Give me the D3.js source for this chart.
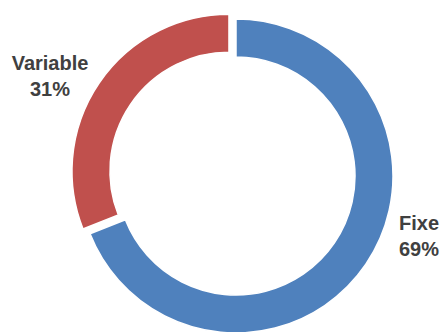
<!DOCTYPE html>
<html>
<head>
<meta charset="utf-8">
<script src="https://cdn.jsdelivr.net/npm/d3@7"></script>
<style>
  html, body { margin: 0; padding: 0; background: #fff; }
  svg { display: block; }
  text { font-family: "Liberation Sans", Arial, sans-serif; font-weight: bold; fill: #404040; }
</style>
</head>
<body>
<svg id="chart" width="443" height="332"></svg>
<script>
// Cost split
const categories = ["Fixe", "Variable"];
const values = [69, 31];
const colors = ["#4F81BD", "#C0504D"];
const labels = ["Fixe\n69%", "Variable\n31%"];

const W = 443, H = 332;
const cx = 236, cy = 176;
const outerR = 157, innerR = 119;
const explode = [0, 8.5];          // pull-out distance per slice
// label anchor (centre of text block) relative to the ring centre
const labelPos = [[183, 58], [-186, -102]];

const svg = d3.select("#chart");
const g = svg.append("g").attr("transform", `translate(${cx},${cy})`);

const pie = d3.pie().sort(null).value(d => d.value);
const arc = d3.arc().innerRadius(innerR).outerRadius(outerR);
const data = pie(categories.map((c, i) => ({ cat: c, value: values[i], i })));

g.selectAll("path.slice")
  .data(data)
  .join("path")
  .attr("class", "slice")
  .attr("fill", d => colors[d.data.i])
  .attr("stroke", "#fff")
  .attr("stroke-width", 1.5)
  .attr("transform", d => {
    const a = (d.startAngle + d.endAngle) / 2;
    const e = explode[d.data.i];
    return `translate(${e * Math.sin(a)},${-e * Math.cos(a)})`;
  })
  .attr("d", arc);

const lbl = g.selectAll("text.lbl")
  .data(data)
  .join("text")
  .attr("class", "lbl")
  .attr("text-anchor", "middle")
  .attr("font-size", 20)
  .attr("transform", d => `translate(${labelPos[d.data.i][0]},${labelPos[d.data.i][1]})`);

lbl.selectAll("tspan")
  .data(d => labels[d.data.i].split("\n"))
  .join("tspan")
  .attr("x", 0)
  .attr("dy", (t, j) => j === 0 ? "-0.2em" : "1.3em")
  .text(t => t);
</script>
</body>
</html>
